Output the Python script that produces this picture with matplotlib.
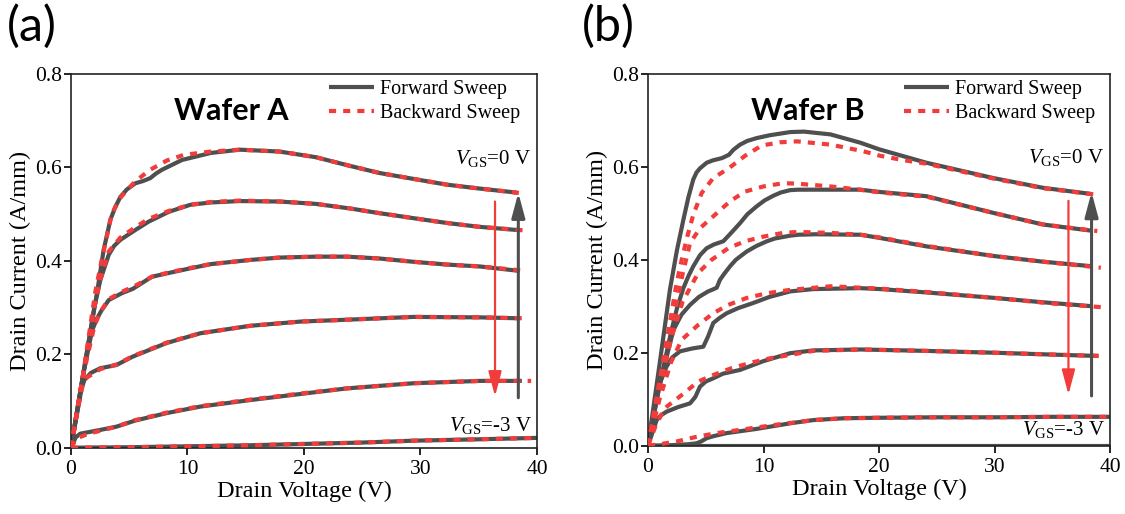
import numpy as np
import matplotlib
matplotlib.use("Agg")
import matplotlib.pyplot as plt

SERIF = ['Liberation Serif', 'DejaVu Serif']
plt.rcParams['font.family'] = SERIF
plt.rcParams['mathtext.fontset'] = 'custom'
plt.rcParams['mathtext.rm'] = 'Liberation Serif'
plt.rcParams['mathtext.it'] = 'Liberation Serif:italic'

# ---- Wafer A : forward sweep (VGS = 0 ... -3 V) ----
a_f1_v = [0, 1, 2.23, 2.8, 3.38, 3.8, 4.24, 4.8, 5.52, 6.2, 6.8, 7.3, 7.81, 9.53, 12, 14.5, 17.9, 21, 24, 26.5, 29.5, 32.3, 35, 38.3]
a_f1_i = [0, 0.15, 0.331, 0.423, 0.488, 0.515, 0.537, 0.553, 0.566, 0.571, 0.577, 0.587, 0.595, 0.616, 0.631, 0.638, 0.634, 0.622, 0.603, 0.588, 0.575, 0.563, 0.555, 0.546]
a_f2_v = [0, 1, 2, 2.52, 3.24, 3.7, 4.24, 5.52, 6.67, 8.4, 10.24, 12, 14.5, 17.9, 21, 24, 26.5, 29.5, 32.3, 35, 38.3]
a_f2_i = [0, 0.15, 0.30, 0.359, 0.413, 0.432, 0.445, 0.466, 0.484, 0.505, 0.52, 0.525, 0.528, 0.527, 0.522, 0.512, 0.502, 0.491, 0.481, 0.473, 0.466]
a_f3_v = [0, 1, 1.8, 2.2, 2.6, 3.24, 4.38, 5.3, 6.95, 8.2, 10.24, 12, 15.4, 17.9, 21, 23.7, 26.5, 29.4, 32.3, 35.1, 38.3]
a_f3_i = [0, 0.15, 0.25, 0.275, 0.293, 0.316, 0.331, 0.34, 0.366, 0.373, 0.384, 0.393, 0.402, 0.407, 0.409, 0.409, 0.405, 0.398, 0.392, 0.388, 0.379]
a_f4_v = [0, 0.5, 0.9, 1.15, 1.7, 2.5, 3.9, 5.3, 8.2, 11.1, 15.4, 19.7, 23.7, 29.4, 35.1, 38.5]
a_f4_i = [0, 0.07, 0.125, 0.145, 0.16, 0.17, 0.177, 0.195, 0.224, 0.245, 0.261, 0.27, 0.274, 0.28, 0.279, 0.277]
a_f5_v = [0, 0.4, 0.8, 2.5, 3.9, 5.5, 8.2, 11.1, 15.4, 19.7, 23.7, 29.4, 35.1, 38.7]
a_f5_i = [0, 0.022, 0.03, 0.038, 0.045, 0.058, 0.074, 0.088, 0.102, 0.115, 0.127, 0.138, 0.143, 0.143]
a_f6_v = [0, 5, 10, 15, 20, 25, 29.4, 35, 40]
a_f6_i = [0, 0.001, 0.003, 0.005, 0.008, 0.011, 0.015, 0.018, 0.021]

# ---- Wafer A : backward sweep ----
a_b1_v = [0, 1, 2.09, 2.7, 3.52, 4.3, 5.5, 6.8, 8.24, 9.7, 12, 14.5, 17.9, 21, 24, 26.5, 29.5, 32.3, 35, 38.6]
a_b1_i = [0, 0.15, 0.334, 0.41, 0.502, 0.537, 0.57, 0.595, 0.615, 0.627, 0.634, 0.638, 0.634, 0.622, 0.603, 0.588, 0.575, 0.563, 0.555, 0.545]
a_b2_v = [0, 1, 2, 2.52, 3.24, 4.24, 5.52, 6.67, 8.4, 10.24, 12, 14.5, 17.9, 21, 24, 26.5, 29.5, 32.3, 35, 39]
a_b2_i = [0, 0.15, 0.30, 0.36, 0.42, 0.45, 0.472, 0.49, 0.507, 0.52, 0.526, 0.529, 0.527, 0.522, 0.512, 0.502, 0.491, 0.481, 0.473, 0.465]
a_b3_v = [0, 1, 2, 2.5, 3.24, 4.38, 5.3, 6.95, 8.2, 10.24, 12, 15.4, 17.9, 21, 23.7, 26.5, 29.4, 32.3, 35.1, 38.9]
a_b3_i = [0, 0.15, 0.26, 0.29, 0.318, 0.334, 0.344, 0.366, 0.374, 0.385, 0.393, 0.402, 0.407, 0.409, 0.409, 0.405, 0.398, 0.392, 0.388, 0.379]
a_b4_v = [0, 0.5, 1, 1.35, 2.5, 3.9, 5.3, 8.2, 11.1, 15.4, 19.7, 23.7, 29.4, 35.1, 39.1]
a_b4_i = [0, 0.07, 0.135, 0.15, 0.168, 0.178, 0.196, 0.225, 0.245, 0.261, 0.27, 0.274, 0.28, 0.279, 0.277]
a_b5_v = [0, 0.5, 1.5, 2.5, 3.9, 5.5, 8.2, 11.1, 15.4, 19.7, 23.7, 29.4, 35.1, 39.5]
a_b5_i = [0, 0.02, 0.03, 0.036, 0.045, 0.059, 0.075, 0.089, 0.103, 0.116, 0.127, 0.138, 0.143, 0.143]
a_b6_v = [0, 5, 10, 15, 20, 25, 29.4, 35, 40]
a_b6_i = [0, 0.001, 0.003, 0.005, 0.008, 0.011, 0.015, 0.018, 0.021]

# ---- Wafer B : forward sweep ----
b_f1_v = [0, 1, 1.9, 2.5, 3.06, 3.5, 3.92, 4.2, 4.5, 5.08, 5.6, 6.4, 7.0, 7.4, 7.97, 8.6, 9.4, 10.5, 12.3, 13.5, 15.8, 18.4, 20, 24.1, 29.9, 34.2, 38.3]
b_f1_i = [0, 0.175, 0.336, 0.42, 0.486, 0.535, 0.573, 0.588, 0.597, 0.609, 0.614, 0.619, 0.626, 0.637, 0.648, 0.656, 0.662, 0.668, 0.675, 0.676, 0.670, 0.652, 0.638, 0.609, 0.576, 0.555, 0.542]
b_f2_v = [0, 1, 2, 2.5, 3.06, 3.5, 3.92, 4.5, 5.08, 5.7, 6.52, 7.2, 7.97, 8.6, 9.4, 10.1, 10.85, 11.5, 12.3, 13, 14.3, 18.4, 20.1, 24.1, 29.9, 34.2, 38.3]
b_f2_i = [0, 0.13, 0.245, 0.295, 0.339, 0.365, 0.386, 0.41, 0.425, 0.433, 0.44, 0.458, 0.479, 0.498, 0.515, 0.528, 0.538, 0.545, 0.55, 0.551, 0.551, 0.551, 0.546, 0.537, 0.501, 0.476, 0.463]
b_f3_v = [0, 1, 2.2, 2.9, 3.64, 4.4, 5.2, 5.6, 5.95, 6.23, 6.6, 7.1, 7.6, 8.55, 9.4, 10.3, 11, 12.3, 13, 14.5, 18.4, 20.1, 24.1, 30, 34.2, 38.5]
b_f3_i = [0, 0.13, 0.249, 0.282, 0.303, 0.32, 0.332, 0.336, 0.34, 0.357, 0.37, 0.386, 0.4, 0.418, 0.43, 0.44, 0.446, 0.452, 0.454, 0.455, 0.454, 0.447, 0.429, 0.408, 0.396, 0.386]
b_f4_v = [0, 0.8, 1.6, 2.1, 2.77, 3.8, 4.79, 5.2, 5.65, 6.2, 6.81, 7.8, 9.1, 10.5, 12.3, 14.3, 18.4, 20.1, 24, 30, 34, 38.5]
b_f4_i = [0, 0.12, 0.17, 0.19, 0.203, 0.209, 0.213, 0.235, 0.264, 0.275, 0.285, 0.296, 0.307, 0.32, 0.332, 0.337, 0.339, 0.337, 0.33, 0.318, 0.309, 0.30]
b_f5_v = [0, 0.75, 1.1, 1.6, 2.6, 3.64, 4.1, 4.5, 5.0, 5.65, 6.5, 7.97, 10, 12.3, 14.3, 18.4, 24, 30, 35, 39]
b_f5_i = [0, 0.055, 0.065, 0.073, 0.083, 0.091, 0.105, 0.127, 0.138, 0.145, 0.155, 0.163, 0.182, 0.199, 0.205, 0.207, 0.204, 0.2, 0.196, 0.193]
b_f6_v = [0, 2, 3.5, 4.2, 4.6, 5.08, 5.6, 6.81, 9.4, 12.3, 14.3, 17, 20.1, 25, 30, 35, 40]
b_f6_i = [0, 0.001, 0.003, 0.005, 0.009, 0.016, 0.02, 0.027, 0.036, 0.048, 0.055, 0.059, 0.06, 0.061, 0.061, 0.062, 0.062]
b_f7_v = [0, 10, 20, 30, 40]
b_f7_i = [0, 0, 0, 0, 0]

# ---- Wafer B : backward sweep ----
b_b1_v = [0, 1, 2.0, 2.48, 2.92, 3.4, 3.92, 4.65, 5.65, 7.04, 8.4, 9.84, 11.43, 12.9, 15.8, 18.6, 20.1, 22, 24.1, 29.9, 34.2, 38.6]
b_b1_i = [0, 0.14, 0.28, 0.35, 0.40, 0.45, 0.497, 0.544, 0.576, 0.598, 0.624, 0.646, 0.653, 0.655, 0.648, 0.634, 0.624, 0.615, 0.607, 0.575, 0.554, 0.541]
b_b2_v = [0, 1, 2, 3, 3.64, 4.5, 5.8, 7.1, 8.4, 10, 11.7, 12.9, 15.8, 18, 20.1, 24.1, 29.9, 34.2, 38.9]
b_b2_i = [0, 0.13, 0.25, 0.37, 0.436, 0.468, 0.497, 0.526, 0.547, 0.558, 0.565, 0.564, 0.558, 0.552, 0.545, 0.536, 0.501, 0.476, 0.462]
b_b3_v = [0, 1, 2, 3, 4.35, 5.5, 6.95, 8.4, 10, 11.7, 13, 15.8, 18.4, 20.1, 24.1, 30, 34.2, 39.2]
b_b3_i = [0, 0.12, 0.23, 0.31, 0.372, 0.40, 0.425, 0.44, 0.45, 0.458, 0.46, 0.458, 0.454, 0.448, 0.43, 0.408, 0.396, 0.383]
b_b4_v = [0, 1, 2, 2.92, 4.35, 5.65, 6.95, 8.55, 10.3, 12.2, 15.8, 20.1, 24, 30, 35, 39.3]
b_b4_i = [0, 0.1, 0.18, 0.228, 0.26, 0.285, 0.303, 0.318, 0.328, 0.335, 0.343, 0.338, 0.331, 0.318, 0.306, 0.298]
b_b5_v = [0, 0.7, 1.47, 2.92, 4.35, 5.65, 7.25, 8.98, 10.56, 12, 14.3, 18.4, 24, 30, 35, 39.5]
b_b5_i = [0, 0.045, 0.081, 0.109, 0.138, 0.152, 0.167, 0.179, 0.188, 0.194, 0.204, 0.207, 0.204, 0.2, 0.196, 0.193]
b_b6_v = [0, 1, 2.48, 4.2, 5.95, 7.97, 11.1, 14.3, 17, 20.1, 25, 30, 35, 39.8]
b_b6_i = [0, 0.003, 0.009, 0.019, 0.027, 0.034, 0.045, 0.055, 0.059, 0.06, 0.061, 0.061, 0.062, 0.062]

x_ticks = [0, 10, 20, 30, 40]
y_ticks = [0.0, 0.2, 0.4, 0.6, 0.8]

GRAY = '#4f4f4f'
RED = '#f23c3c'

fig = plt.figure(figsize=(11.25, 5.14), dpi=100)
ax_a = fig.add_axes([0.0631, 0.129, 0.4142, 0.727])
ax_b = fig.add_axes([0.576, 0.133, 0.4107, 0.723])

panels = [
    (ax_a, [(a_f1_v, a_f1_i), (a_f2_v, a_f2_i), (a_f3_v, a_f3_i), (a_f4_v, a_f4_i), (a_f5_v, a_f5_i), (a_f6_v, a_f6_i)],
     [(a_b1_v, a_b1_i), (a_b2_v, a_b2_i), (a_b3_v, a_b3_i), (a_b4_v, a_b4_i), (a_b5_v, a_b5_i), (a_b6_v, a_b6_i)],
     'Wafer A', 0.045),
    (ax_b, [(b_f1_v, b_f1_i), (b_f2_v, b_f2_i), (b_f3_v, b_f3_i), (b_f4_v, b_f4_i), (b_f5_v, b_f5_i), (b_f6_v, b_f6_i), (b_f7_v, b_f7_i)],
     [(b_b1_v, b_b1_i), (b_b2_v, b_b2_i), (b_b3_v, b_b3_i), (b_b4_v, b_b4_i), (b_b5_v, b_b5_i), (b_b6_v, b_b6_i)],
     'Wafer B', 0.028),
]

for ax, fwd, bwd, title, low_y in panels:
    for k, (v, i) in enumerate(fwd):
        ax.plot(v, i, color=GRAY, lw=3, solid_joinstyle='round', solid_capstyle='butt',
                label='Forward Sweep' if k == 0 else None, zorder=2)
    for k, (v, i) in enumerate(bwd):
        ax.plot(v, i, color=RED, lw=3, linestyle=(0, (1.7, 1.7)),
                label='Backward Sweep' if k == 0 else None, zorder=3)

    # VGS arrows
    ax.annotate('', xy=(36.4, 0.110), xytext=(36.4, 0.527),
                arrowprops=dict(arrowstyle='-|>,head_length=0.75,head_width=0.2',
                                color=RED, lw=1.6, mutation_scale=20, shrinkA=0, shrinkB=0), zorder=4)
    ax.annotate('', xy=(38.4, 0.546), xytext=(38.4, 0.107),
                arrowprops=dict(arrowstyle='-|>,head_length=0.75,head_width=0.2',
                                color=GRAY, lw=2.2, mutation_scale=20, shrinkA=0, shrinkB=0), zorder=4)

    ax.set_xlim(0, 40)
    ax.set_ylim(0, 0.8)
    ax.set_xticks(x_ticks)
    ax.set_xticklabels([str(t) for t in x_ticks], family=SERIF)
    ax.set_yticks(y_ticks)
    ax.set_yticklabels(['%.1f' % t for t in y_ticks], family=SERIF)
    ax.tick_params(direction='out', length=5, width=1.2, labelsize=15.5, top=False, right=False)
    ax.tick_params(axis='y', pad=1.5)
    ax.tick_params(axis='x', pad=4)
    for s in ax.spines.values():
        s.set_linewidth(1.2)
        s.set_color('#222222')
    ax.set_xlabel('Drain Voltage (V)', fontsize=17.5, labelpad=1, family=SERIF)
    ax.set_ylabel('Drain Current (A/mm)', fontsize=17.5, labelpad=3, family=SERIF)

    ax.text(0.345, 0.90, title, transform=ax.transAxes, fontsize=22, fontweight='bold',
            family='Lato', ha='center', va='center')
    ax.text(0.987, 0.76, r'$V_{\rm GS}$=0 V', transform=ax.transAxes, fontsize=15,
            ha='right', va='baseline', family=SERIF)
    ax.text(0.99, low_y, r'$V_{\rm GS}$=-3 V', transform=ax.transAxes, fontsize=15,
            ha='right', va='baseline', family=SERIF)

    ax.legend(loc='upper left', bbox_to_anchor=(0.524, 1.022), frameon=False,
              prop={'family': SERIF, 'size': 14.5},
              handlelength=2.2, handletextpad=0.3, labelspacing=0.25, borderpad=0.2)

fig.text(0.006, 0.993, '(a)', fontsize=35, family='Lato', ha='left', va='top')
fig.text(0.517, 0.993, '(b)', fontsize=35, family='Lato', ha='left', va='top')

fig.savefig('out.png', dpi=100)
